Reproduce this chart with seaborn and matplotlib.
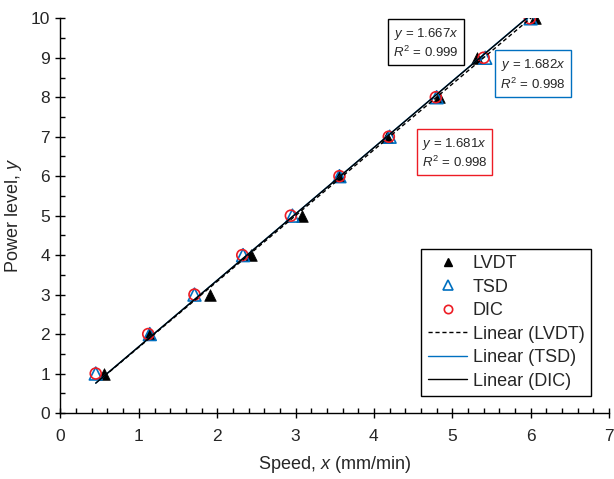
import numpy as np
import pandas as pd
import seaborn as sns
import matplotlib
matplotlib.use("Agg")
import matplotlib.pyplot as plt
from matplotlib.lines import Line2D
from matplotlib.ticker import MultipleLocator

# Power levels and the speed measured by each instrument
power = [1, 2, 3, 4, 5, 6, 7, 8, 9, 10]
speed_lvdt = [0.56, 1.13, 1.91, 2.43, 3.08, 3.56, 4.17, 4.83, 5.31, 6.05]
speed_tsd = [0.45, 1.14, 1.71, 2.33, 2.96, 3.56, 4.20, 4.80, 5.42, 6.00]
speed_dic = [0.45, 1.12, 1.71, 2.32, 2.94, 3.56, 4.19, 4.79, 5.40, 5.99]

# Zero-intercept linear trendlines: slope and R^2 per instrument
slope_lvdt, r2_lvdt = 1.667, 0.999
slope_tsd, r2_tsd = 1.682, 0.998
slope_dic, r2_dic = 1.681, 0.998

BLUE = "#0070C0"
RED = "#ED1C24"

sns.set_style("ticks")
plt.rcParams["font.family"] = ["Liberation Sans", "DejaVu Sans"]
plt.rcParams["mathtext.fontset"] = "custom"
plt.rcParams["mathtext.rm"] = "Liberation Sans"
plt.rcParams["mathtext.it"] = "Liberation Sans:italic"

fig = plt.figure(figsize=(6.14, 4.79), dpi=100)
ax = fig.add_axes([0.0985, 0.1378, 0.8934, 0.824])

df_lvdt = pd.DataFrame({"x": speed_lvdt, "y": power})
df_tsd = pd.DataFrame({"x": speed_tsd, "y": power})
df_dic = pd.DataFrame({"x": speed_dic, "y": power})


def trend(xs, slope):
    xr = np.array([min(xs), max(xs)])
    return pd.DataFrame({"x": xr, "y": slope * xr})


# Markers
sns.scatterplot(data=df_lvdt, x="x", y="y", ax=ax, marker="^", s=70,
                color="black", edgecolor="black", linewidth=0.5, zorder=3)
sns.scatterplot(data=df_tsd, x="x", y="y", ax=ax, marker="^", s=85,
                facecolor="none", edgecolor=BLUE, linewidth=1.2, zorder=3)
sns.scatterplot(data=df_dic, x="x", y="y", ax=ax, marker="o", s=62,
                facecolor="none", edgecolor=RED, linewidth=1.2, zorder=4)

# Trendlines
sns.lineplot(data=trend(speed_tsd, slope_tsd), x="x", y="y", ax=ax,
             color=BLUE, linewidth=1.0, estimator=None, sort=False, zorder=5)
sns.lineplot(data=trend(speed_dic, slope_dic), x="x", y="y", ax=ax,
             color="black", linewidth=1.0, estimator=None, sort=False, zorder=6)
sns.lineplot(data=trend(speed_lvdt, slope_lvdt), x="x", y="y", ax=ax,
             color="black", linewidth=1.0, linestyle=(0, (3, 2)),
             estimator=None, sort=False, zorder=6)

ax.set_xlim(0, 7)
ax.set_ylim(0, 10)
ax.xaxis.set_major_locator(MultipleLocator(1))
ax.xaxis.set_minor_locator(MultipleLocator(0.2))
ax.yaxis.set_major_locator(MultipleLocator(1))
ax.yaxis.set_minor_locator(MultipleLocator(0.5))
ax.tick_params(which="major", direction="inout", length=7, width=1,
               labelsize=12.5, color="black")
ax.tick_params(axis="x", which="major", pad=8)
ax.tick_params(axis="y", which="major", pad=4)
ax.tick_params(which="minor", direction="in", length=3.5, width=1,
               color="black")
for side in ("top", "right"):
    ax.spines[side].set_visible(False)
for side in ("left", "bottom"):
    ax.spines[side].set_linewidth(1.0)
    ax.spines[side].set_color("black")

ax.set_xlabel("Speed, $x$ (mm/min)", fontsize=13, labelpad=7)
ax.set_ylabel("Power level, $y$", fontsize=13, labelpad=5)

# Trendline equations
def eq_box(x, y, slope, r2, color):
    ax.text(x, y, f"$y$ = {slope:.3f}$x$\n$R^{{\\mathrm{{2}}}}$ = {r2:.3f}",
            ha="center", va="center", fontsize=9.5, linespacing=1.25,
            bbox=dict(boxstyle="square,pad=0.38", facecolor="white",
                      edgecolor=color, linewidth=1.0), zorder=7)


eq_box(4.665, 9.38, slope_lvdt, r2_lvdt, "black")
eq_box(6.03, 8.575, slope_tsd, r2_tsd, BLUE)
eq_box(5.03, 6.58, slope_dic, r2_dic, RED)

handles = [
    Line2D([], [], linestyle="none", marker="^", markersize=6,
           color="black"),
    Line2D([], [], linestyle="none", marker="^", markersize=7,
           markerfacecolor="none", markeredgecolor=BLUE, markeredgewidth=1.2),
    Line2D([], [], linestyle="none", marker="o", markersize=6,
           markerfacecolor="none", markeredgecolor=RED, markeredgewidth=1.2),
    Line2D([], [], color="black", linewidth=1.0, linestyle=(0, (3, 2))),
    Line2D([], [], color=BLUE, linewidth=1.0),
    Line2D([], [], color="black", linewidth=1.0),
]
labels = ["LVDT", "TSD", "DIC", "Linear (LVDT)", "Linear (TSD)", "Linear (DIC)"]
leg = ax.legend(handles, labels, loc="lower right",
                bbox_to_anchor=(0.967, 0.043), fontsize=13,
                frameon=True, fancybox=False, edgecolor="black",
                framealpha=1, borderpad=0.35, handlelength=2.2,
                handletextpad=0.3, labelspacing=0.36, borderaxespad=0)
leg.get_frame().set_linewidth(1.0)

fig.savefig("out.png", dpi=100)
